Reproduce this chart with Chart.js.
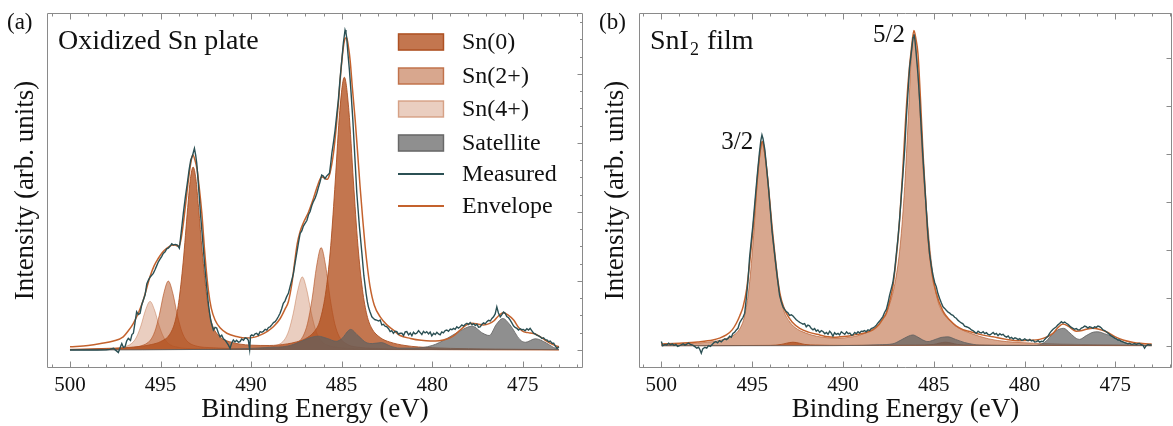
<!DOCTYPE html>
<html>
<head>
<meta charset="utf-8">
<script src="https://cdn.jsdelivr.net/npm/chart.js@4.4.0/dist/chart.umd.min.js"></script>
<style>
  body { margin: 0; background: #fff; }
  #wrap { position: relative; width: 1173px; height: 426px; }
  #wrap canvas { position: absolute; top: 0; }
</style>
</head>
<body>
<div id="wrap">
  <canvas id="chartA" width="590" height="426" style="left:0"></canvas>
  <canvas id="chartB" width="583" height="426" style="left:590px"></canvas>
</div>
<script>
// binding energy ticks shown on both panels
const energyTicks = [500, 495, 490, 485, 480, 475];
const legendLabels = ['Sn(0)', 'Sn(2+)', 'Sn(4+)', 'Satellite', 'Measured', 'Envelope'];
const peakLabels = ['3/2', '5/2'];

// ---- panel (a): oxidized Sn plate, [binding energy, intensity] ----
const aSn0 = [[500,.002],[498,.005],[497,.007],[496,.012],[495.5,.017],[495,.026],[494.5,.048],[494.2,.088],[494,.147],
  [493.75,.273],[493.5,.442],[493.35,.532],[493.2,.568],[493.05,.532],[492.9,.442],[492.7,.307],[492.45,.168],[492.2,.089],
  [491.7,.040],[491.2,.026],[490,.015],[489,.014],[488,.019],[487.5,.025],[487,.035],[486.5,.058],[486.2,.091],[485.85,.19],
  [485.6,.325],[485.35,.525],[485.1,.744],[484.85,.847],[484.6,.744],[484.35,.525],[484.1,.325],[483.85,.188],[483.6,.108],
  [483.35,.069],[482.85,.038],[482.35,.025],[481.5,.014],[480,.007],[478,.004],[475,.002],[473,.001]];
const aSn2 = [[500,.001],[497.5,.004],[496.57,.008],[496.07,.013],[495.57,.030],[495.32,.057],[495.07,.108],[494.82,.176],
  [494.57,.214],[494.32,.176],[494.07,.108],[493.82,.057],[493.57,.030],[493.07,.013],[492.07,.007],[490.5,.004],[489,.005],
  [488.13,.010],[487.63,.017],[487.13,.043],[486.88,.083],[486.63,.159],[486.38,.261],[486.13,.318],[485.88,.261],[485.63,.159],
  [485.38,.082],[485.13,.042],[484.63,.016],[484.13,.009],[483.13,.005],[481,.002],[478,.001],[473,0]];
const aSn4 = [[500,.001],[498.58,.003],[497.58,.005],[497.08,.009],[496.58,.021],[496.33,.040],[496.08,.076],[495.83,.124],
  [495.58,.151],[495.33,.124],[495.08,.076],[494.83,.040],[494.58,.021],[494.08,.009],[493,.004],[491,.003],[489.17,.008],
  [488.67,.013],[488.17,.031],[487.92,.060],[487.67,.114],[487.42,.186],[487.17,.227],[486.92,.186],[486.67,.114],[486.42,.060],
  [486.17,.031],[485.67,.013],[485.17,.008],[484,.003],[481,.001],[473,0]];
const aSatellite = [[500,0],[492,.002],[490,.005],[489,.008],[488,.012],[487.3,.025],[486.8,.037],[486.3,.043],[485.8,.036],
  [485.3,.027],[485,.035],[484.5,.064],[484.1,.045],[483.6,.022],[483.3,.020],[482.8,.023],[482.3,.012],[481.8,.006],[481,.006],
  [480,.014],[479.2,.035],[478.5,.058],[477.8,.074],[477.2,.052],[476.85,.045],[476.45,.080],[476.1,.098],[475.7,.078],
  [475.15,.032],[474.85,.024],[474.3,.035],[473.7,.022],[473.3,.008],[473,.002]];
const aEnvelope = [[500,.010],[499,.014],[498.3,.020],[497.6,.028],[497.06,.041],[496.8,.058],[496.5,.083],[496.2,.118],
  [495.95,.155],[495.75,.195],[495.58,.228],[495.35,.262],[495.12,.285],[494.9,.303],[494.66,.316],[494.4,.325],[494.2,.326],
  [494.05,.323],[493.95,.326],[493.85,.350],[493.74,.393],[493.6,.460],[493.46,.528],[493.33,.580],[493.22,.606],[493.1,.590],
  [492.98,.560],[492.91,.528],[492.72,.425],[492.54,.290],[492.36,.186],[492.2,.130],[491.99,.093],[491.7,.068],[491.34,.052],
  [490.8,.042],[490.24,.037],[489.8,.040],[489.5,.046],[489.1,.058],[488.77,.072],[488.4,.097],[488.1,.130],[487.94,.150],
  [487.75,.205],[487.6,.270],[487.45,.330],[487.29,.368],[487.11,.395],[486.83,.428],[486.56,.470],[486.3,.515],[486.1,.538],
  [485.95,.534],[485.8,.530],[485.65,.548],[485.45,.611],[485.3,.690],[485.18,.766],[485.05,.860],[484.9,.942],[484.8,.968],
  [484.72,.970],[484.62,.940],[484.53,.900],[484.4,.810],[484.25,.714],[484.1,.600],[483.98,.507],[483.84,.410],[483.7,.321],
  [483.56,.250],[483.43,.197],[483.2,.140],[482.87,.103],[482.5,.078],[482.14,.062],[481.77,.045],[481.2,.036],[480.6,.030],
  [480.1,.028],[479.6,.029],[479.19,.034],[478.8,.045],[478.45,.062],[478.1,.078],[477.8,.083],[477.45,.080],[477.17,.078],
  [476.85,.082],[476.6,.090],[476.3,.108],[476.07,.116],[475.8,.108],[475.5,.093],[475.2,.068],[474.96,.057],[474.7,.054],
  [474.4,.051],[474,.040],[473.66,.027],[473.3,.016],[473,.010]];
const aMeasured = [[500,0],[499.5,0],[499,0],[498.5,0],[498,.001],[497.8,.002],[497.6,.005],[497.45,-.002],[497.33,-.008],
  [497.2,.012],[497.14,.020],[497.05,.008],[496.96,.010],[496.87,.028],[496.78,.036],[496.66,.030],[496.58,.048],[496.5,.052],
  [496.41,.085],[496.32,.119],[496.22,.110],[496.13,.114],[496.04,.140],[495.95,.155],[495.85,.172],[495.76,.205],[495.67,.217],
  [495.58,.226],[495.49,.232],[495.4,.238],[495.3,.250],[495.21,.262],[495.12,.274],[495.03,.282],[494.94,.290],[494.85,.300],
  [494.75,.305],[494.66,.314],[494.57,.316],[494.48,.322],[494.38,.330],[494.29,.326],[494.18,.328],[494.07,.326],[493.96,.316],
  [493.9,.345],[493.82,.385],[493.74,.425],[493.63,.475],[493.52,.518],[493.42,.560],[493.33,.590],[493.23,.605],[493.13,.626],
  [493.06,.605],[493,.580],[492.93,.530],[492.86,.476],[492.79,.420],[492.72,.373],[492.63,.310],[492.54,.248],[492.45,.195],
  [492.36,.145],[492.29,.115],[492.23,.093],[492.15,.075],[492.08,.062],[491.99,.070],[491.9,.068],[491.8,.052],[491.71,.041],
  [491.62,.046],[491.53,.035],[491.44,.031],[491.35,.024],[491.25,.015],[491.16,.005],[491.07,.022],[490.98,.031],[490.89,.025],
  [490.8,.030],[490.7,.024],[490.61,.026],[490.52,.034],[490.42,.030],[490.33,.038],[490.24,.036],[490.15,.030],[490.08,.002],
  [490.03,.044],[489.96,.047],[489.87,.044],[489.78,.050],[489.69,.052],[489.6,.046],[489.5,.057],[489.41,.055],[489.32,.058],
  [489.22,.064],[489.13,.062],[489.04,.070],[488.95,.072],[488.86,.078],[488.76,.085],[488.67,.088],[488.58,.095],[488.49,.104],
  [488.4,.114],[488.31,.128],[488.22,.145],[488.13,.152],[488.04,.165],[487.94,.176],[487.85,.196],[487.76,.215],[487.66,.238],
  [487.57,.270],[487.48,.300],[487.38,.334],[487.29,.362],[487.2,.370],[487.11,.385],[487.02,.393],[486.92,.402],[486.83,.420],
  [486.74,.430],[486.65,.448],[486.56,.461],[486.46,.472],[486.37,.487],[486.28,.505],[486.19,.522],[486.1,.543],[486.01,.540],
  [485.92,.532],[485.83,.540],[485.74,.545],[485.67,.549],[485.6,.580],[485.54,.611],[485.45,.645],[485.36,.683],[485.27,.730],
  [485.18,.776],[485.09,.840],[484.99,.900],[484.9,.955],[484.81,.994],[484.76,.985],[484.72,.970],[484.65,.920],[484.57,.870],
  [484.48,.800],[484.38,.714],[484.27,.600],[484.16,.487],[484.02,.385],[483.88,.300],[483.77,.230],[483.65,.176],[483.58,.150],
  [483.52,.134],[483.43,.118],[483.33,.103],[483.24,.098],[483.15,.094],[483.06,.093],[482.96,.090],[482.87,.093],[482.78,.078],
  [482.69,.080],[482.6,.074],[482.5,.072],[482.41,.066],[482.32,.057],[482.23,.060],[482.14,.052],[482.05,.058],[481.95,.057],
  [481.86,.049],[481.77,.052],[481.67,.052],[481.58,.045],[481.49,.056],[481.4,.057],[481.3,.047],[481.21,.053],[481.12,.044],
  [481.03,.055],[480.94,.050],[480.85,.052],[480.75,.060],[480.66,.054],[480.57,.048],[480.48,.058],[480.39,.053],[480.3,.057],
  [480.2,.050],[480.11,.056],[480.02,.044],[479.92,.052],[479.83,.048],[479.74,.055],[479.65,.050],[479.56,.047],[479.47,.056],
  [479.38,.053],[479.28,.060],[479.19,.062],[479.1,.058],[479,.065],[478.91,.063],[478.82,.067],[478.73,.064],[478.64,.072],
  [478.55,.068],[478.45,.072],[478.36,.078],[478.27,.074],[478.17,.080],[478.08,.083],[477.99,.079],[477.9,.085],[477.8,.078],
  [477.71,.082],[477.62,.076],[477.53,.080],[477.44,.071],[477.35,.072],[477.25,.080],[477.16,.084],[477.07,.081],[476.98,.088],
  [476.89,.092],[476.79,.090],[476.7,.098],[476.61,.103],[476.52,.112],[476.43,.134],[476.34,.115],[476.24,.103],[476.15,.110],
  [476.06,.118],[475.97,.114],[475.88,.104],[475.78,.100],[475.69,.093],[475.6,.084],[475.51,.075],[475.42,.070],[475.32,.067],
  [475.23,.062],[475.14,.066],[475.05,.063],[474.96,.064],[474.87,.060],[474.77,.066],[474.68,.062],[474.59,.067],[474.5,.060],
  [474.4,.052],[474.31,.050],[474.22,.046],[474.12,.044],[474.03,.041],[473.94,.036],[473.85,.038],[473.75,.032],[473.66,.031],
  [473.57,.026],[473.48,.028],[473.38,.021],[473.29,.021],[473.2,.012],[473.1,.005],[473,.010]];

// ---- panel (b): SnI2 film ----
const bSn2 = [[500,.004],[499,.006],[498,.008],[497.45,.011],[496.95,.015],[496.45,.022],[495.95,.036],[495.7,.052],[495.45,.087],
  [495.2,.170],[494.95,.325],[494.7,.530],[494.55,.615],[494.45,.643],[494.35,.620],[494.15,.535],[493.85,.330],[493.55,.185],
  [493.25,.110],[492.95,.077],[492.65,.058],[492.05,.040],[491.45,.030],[490.85,.025],[490.2,.024],[489.6,.027],[489.09,.033],
  [488.6,.045],[488.2,.059],[487.8,.086],[487.4,.137],[487.1,.209],[486.85,.316],[486.6,.504],[486.4,.724],[486.25,.900],
  [486.09,.986],[485.95,.930],[485.8,.790],[485.6,.570],[485.4,.430],[485.1,.250],[484.8,.148],[484.5,.105],[484.1,.078],
  [483.6,.055],[483,.040],[482,.022],[481,.013],[479.5,.008],[478,.005],[476,.003],[473,.002]];
const bSn0 = [[500,0],[494,.001],[493.4,.004],[493.1,.008],[492.75,.011],[492.4,.008],[492.1,.004],[491.5,.002],[490,.001],
  [486,.002],[485,.004],[484.7,.008],[484.35,.011],[484,.008],[483.7,.004],[483,.002],[480,.001],[473,0]];
const bSatellite = [[500,0],[492,0],[489,.001],[488,.003],[487.25,.006],[486.8,.018],[486.4,.030],[486.15,.034],[485.9,.028],
  [485.6,.018],[485.32,.013],[485,.018],[484.6,.026],[484.22,.028],[483.8,.020],[483.3,.010],[482.8,.004],[482.47,.002],[481,.001],
  [479.5,.001],[479.17,.003],[478.8,.015],[478.44,.039],[478.1,.052],[477.85,.055],[477.5,.040],[477.15,.023],[476.97,.020],
  [476.6,.032],[476.2,.043],[475.96,.044],[475.6,.038],[475.13,.028],[474.75,.016],[474.4,.008],[474,.003],[473.5,.001],[473,0]];
const bEnvelope = [[500,.005],[499,.008],[498,.012],[497.16,.018],[496.8,.024],[496.42,.034],[496.1,.050],[495.87,.071],[495.68,.095],
  [495.5,.123],[495.3,.180],[495.14,.260],[494.96,.365],[494.8,.470],[494.65,.570],[494.52,.630],[494.45,.646],[494.37,.635],
  [494.22,.570],[494.05,.470],[493.9,.375],[493.75,.290],[493.6,.215],[493.45,.160],[493.3,.128],[493.12,.103],[492.8,.075],
  [492.38,.055],[491.9,.043],[491.28,.034],[490.8,.028],[490.5,.027],[490.18,.028],[489.8,.030],[489.3,.035],[488.8,.040],
  [488.35,.050],[488,.068],[487.8,.085],[487.61,.103],[487.43,.140],[487.25,.187],[487.08,.270],[486.88,.398],[486.72,.540],
  [486.55,.714],[486.4,.840],[486.23,.940],[486.09,.998],[485.98,.970],[485.87,.925],[485.73,.780],[485.59,.609],[485.45,.470],
  [485.32,.345],[485.1,.230],[484.86,.166],[484.5,.110],[484.12,.081],[483.75,.062],[483.39,.051],[483.02,.045],[482.4,.035],
  [481.74,.028],[481,.020],[480.27,.016],[479.7,.017],[479.17,.020],[478.8,.027],[478.44,.039],[478.15,.058],[477.89,.069],
  [477.6,.062],[477.15,.046],[476.9,.047],[476.6,.052],[476.23,.055],[475.9,.052],[475.5,.044],[475,.028],[474.58,.018],
  [474,.010],[473.5,.007],[473,.005]];
const bMeasured = [[500,.013],[499.92,0],[499.8,.004],[499.7,.002],[499.6,.008],[499.5,.003],[499.4,.006],[499.3,.001],[499.2,.004],
  [499.1,-.002],[499,0],[498.9,.003],[498.8,.006],[498.7,.002],[498.6,.005],[498.5,.008],[498.4,.004],[498.27,.002],[498.15,-.003],
  [498.05,-.008],[497.95,-.005],[497.88,-.012],[497.8,-.024],[497.72,-.010],[497.6,-.005],[497.5,-.008],[497.4,0],[497.3,-.002],
  [497.2,.004],[497.1,.010],[497,.013],[496.9,.009],[496.8,.016],[496.7,.012],[496.6,.018],[496.5,.022],[496.42,.019],[496.33,.023],
  [496.24,.030],[496.15,.027],[496.06,.039],[495.97,.042],[495.87,.050],[495.78,.055],[495.69,.072],[495.6,.081],[495.5,.090],
  [495.41,.103],[495.32,.150],[495.23,.205],[495.14,.280],[495.05,.330],[494.96,.380],[494.87,.440],[494.78,.500],[494.7,.550],
  [494.6,.610],[494.52,.650],[494.46,.667],[494.4,.655],[494.3,.620],[494.2,.560],[494.1,.500],[494,.430],[493.9,.360],[493.8,.310],
  [493.7,.260],[493.6,.210],[493.49,.160],[493.4,.140],[493.3,.123],[493.21,.115],[493.12,.108],[493.03,.104],[492.94,.096],
  [492.84,.098],[492.75,.094],[492.66,.088],[492.57,.082],[492.48,.078],[492.38,.074],[492.29,.071],[492.2,.068],[492.11,.070],
  [492.02,.060],[491.93,.065],[491.84,.063],[491.75,.055],[491.65,.050],[491.56,.054],[491.47,.046],[491.38,.050],[491.28,.042],
  [491.19,.048],[491.1,.045],[491,.038],[490.91,.042],[490.82,.036],[490.73,.046],[490.64,.040],[490.55,.030],[490.46,.041],
  [490.37,.036],[490.27,.039],[490.18,.034],[490.09,.044],[490,.040],[489.9,.036],[489.8,.044],[489.71,.038],[489.62,.040],
  [489.53,.033],[489.45,.034],[489.35,.042],[489.26,.038],[489.17,.044],[489.08,.040],[488.99,.046],[488.9,.045],[488.81,.048],
  [488.72,.044],[488.62,.050],[488.53,.048],[488.44,.054],[488.35,.056],[488.25,.060],[488.16,.065],[488.07,.072],[487.98,.078],
  [487.89,.085],[487.8,.092],[487.71,.105],[487.61,.115],[487.52,.135],[487.43,.160],[487.34,.180],[487.25,.200],[487.15,.240],
  [487.06,.290],[486.97,.340],[486.88,.400],[486.79,.470],[486.7,.540],[486.6,.620],[486.51,.720],[486.42,.800],[486.33,.880],
  [486.23,.930],[486.14,.975],[486.09,.985],[486.04,.970],[485.96,.920],[485.87,.860],[485.78,.780],[485.69,.690],[485.6,.600],
  [485.5,.510],[485.41,.430],[485.32,.350],[485.23,.292],[485.14,.255],[485.05,.225],[484.95,.200],[484.86,.187],[484.77,.165],
  [484.68,.150],[484.58,.135],[484.49,.123],[484.4,.118],[484.31,.112],[484.21,.106],[484.12,.103],[484.03,.098],[483.94,.096],
  [483.85,.090],[483.76,.087],[483.66,.080],[483.57,.076],[483.48,.072],[483.39,.069],[483.3,.062],[483.2,.060],[483.11,.058],
  [483.02,.055],[482.93,.050],[482.84,.048],[482.74,.043],[482.65,.039],[482.56,.046],[482.47,.042],[482.38,.040],[482.28,.044],
  [482.19,.038],[482.1,.041],[482.01,.036],[481.91,.034],[481.82,.038],[481.73,.042],[481.64,.036],[481.55,.039],[481.46,.032],
  [481.36,.038],[481.27,.034],[481.18,.036],[481.09,.030],[480.99,.027],[480.9,.031],[480.81,.023],[480.72,.026],[480.62,.021],
  [480.53,.025],[480.45,.023],[480.35,.019],[480.26,.022],[480.17,.017],[480.08,.018],[479.99,.022],[479.89,.018],[479.8,.016],
  [479.71,.020],[479.62,.015],[479.53,.017],[479.44,.012],[479.35,.013],[479.25,.016],[479.16,.011],[479.07,.014],[478.98,.013],
  [478.89,.020],[478.8,.025],[478.71,.030],[478.62,.039],[478.53,.046],[478.43,.052],[478.34,.056],[478.25,.060],[478.16,.066],
  [478.07,.070],[477.97,.076],[477.88,.072],[477.79,.075],[477.7,.071],[477.61,.068],[477.51,.062],[477.42,.058],[477.33,.055],
  [477.24,.052],[477.15,.054],[477.06,.050],[476.97,.050],[476.87,.056],[476.78,.058],[476.69,.062],[476.6,.060],[476.51,.056],
  [476.42,.060],[476.32,.058],[476.23,.055],[476.14,.060],[476.05,.058],[475.96,.062],[475.86,.060],[475.77,.056],[475.68,.050],
  [475.59,.048],[475.5,.044],[475.41,.040],[475.31,.035],[475.22,.031],[475.13,.028],[475.04,.024],[474.95,.022],[474.86,.018],
  [474.77,.018],[474.68,.014],[474.58,.012],[474.49,.010],[474.4,.008],[474.31,.006],[474.22,.008],[474.13,.005],[474.04,.005],
  [473.94,.007],[473.85,.004],[473.76,.006],[473.67,.007],[473.57,.003],[473.48,.002],[473.39,-.008],[473.3,0],[473.2,.004],
  [473.1,.002],[473,.003]];

const serif = '"Liberation Serif", "Times New Roman", serif';
const ink = '#111';

function fillSet(label, data, fill, line, order) {
  return { label: label, data: data, backgroundColor: fill, borderColor: line, borderWidth: 1, fill: 'origin',
    pointRadius: 0, cubicInterpolationMode: 'monotone', order: order };
}
function lineSet(label, data, color, width, smooth, order) {
  return { label: label, data: data, borderColor: color, backgroundColor: color, borderWidth: width, fill: false,
    pointRadius: 0, tension: 0, cubicInterpolationMode: smooth ? 'monotone' : 'default', order: order };
}

const cSn0 = ['rgba(178,79,30,0.78)', 'rgba(170,75,28,0.85)'];
const cSn2 = ['rgba(178,79,30,0.50)', 'rgba(178,79,30,0.60)'];
const cSn4 = ['rgba(178,79,30,0.28)', 'rgba(178,79,30,0.36)'];
const cSat = ['rgba(95,95,95,0.70)', 'rgba(95,95,95,0.80)'];
const cMeas = '#2b5054';
const cEnv = '#c4622d';

// frame with inward ticks on all four sides (right side carries intensity ticks)
const framePlugin = {
  id: 'frame',
  afterDatasetsDraw(chart, args, o) {
    const { ctx, chartArea: a, scales: { x, y } } = chart;
    const L = Math.round(a.left) + 0.5, R = Math.round(a.right) - 0.5;
    const T = Math.round(a.top) + 0.5, B = Math.round(a.bottom) - 0.5;
    ctx.save();
    ctx.strokeStyle = '#8a8a8a';
    ctx.lineWidth = 1;
    ctx.beginPath();
    ctx.rect(L, T, R - L, B - T);
    for (let v = Math.ceil(x.min); v <= x.max; v++) {
      const px = Math.round(x.getPixelForValue(v)) + 0.5;
      const len = v % 5 === 0 ? 6 : 3;
      ctx.moveTo(px, B); ctx.lineTo(px, B - len);
      ctx.moveTo(px, T); ctx.lineTo(px, T + len);
    }
    for (let i = 0; i * o.yMinor <= y.max; i++) {
      const py = Math.round(y.getPixelForValue(i * o.yMinor)) + 0.5;
      const len = i % o.perMajor === 0 ? 5 : 2.5;
      ctx.moveTo(R, py); ctx.lineTo(R - len, py);
    }
    ctx.stroke();
    ctx.restore();
  }
};

function panelOptions(p) {
  return {
    responsive: false,
    animation: false,
    events: [],
    layout: { padding: { left: 0, right: p.padRight, top: 13, bottom: 0 } },
    plugins: {
      legend: { display: false },
      tooltip: { enabled: false },
      frame: { yMinor: p.yMinor, perMajor: p.perMajor }
    },
    scales: {
      x: {
        type: 'linear', reverse: true, min: p.xMin, max: p.xMax,
        afterBuildTicks: s => { s.ticks = energyTicks.map(v => ({ value: v })); },
        afterFit: s => { s.height = 58; },
        grid: { display: false, drawTicks: false },
        border: { display: false },
        ticks: { color: ink, font: { family: serif, size: 21 }, padding: 5, maxRotation: 0 },
        title: { display: true, text: 'Binding Energy (eV)', color: ink,
          font: { family: serif, size: 27 }, padding: { top: 0, bottom: 0 } }
      },
      y: {
        min: p.yMin, max: p.yMax,
        afterFit: s => { s.width = p.left; },
        grid: { display: false, drawTicks: false },
        border: { display: false },
        ticks: { display: false },
        title: { display: true, text: 'Intensity (arb. units)', color: ink,
          font: { family: serif, size: 27 }, padding: { top: 10, bottom: 0 } }
      }
    }
  };
}

// ---------- panel (a) ----------
const dsA = [
  fillSet(legendLabels[0], aSn0, cSn0[0], cSn0[1], 5),
  fillSet(legendLabels[1], aSn2, cSn2[0], cSn2[1], 4),
  fillSet(legendLabels[2], aSn4, cSn4[0], cSn4[1], 3),
  fillSet(legendLabels[3], aSatellite, cSat[0], cSat[1], 2),
  lineSet(legendLabels[4], aMeasured, cMeas, 1.4, false, 0),
  lineSet(legendLabels[5], aEnvelope, cEnv, 1.5, true, 1)
];

const textsA = {
  id: 'textsA',
  afterDraw(chart) {
    const ctx = chart.ctx;
    ctx.save();
    ctx.fillStyle = ink;
    ctx.textBaseline = 'alphabetic';
    ctx.font = '23px ' + serif;
    ctx.fillText('(a)', 7, 29);
    ctx.font = '28px ' + serif;
    ctx.fillText('Oxidized Sn plate', 58, 49);
    // legend
    const rows = [42, 76, 109, 143, 174, 206];
    ctx.font = '24px ' + serif;
    ctx.textBaseline = 'middle';
    chart.data.datasets.forEach((ds, i) => {
      const yc = rows[i];
      if (ds.fill) {
        ctx.fillStyle = ds.backgroundColor;
        ctx.fillRect(398, yc - 8.5, 46, 17);
        ctx.strokeStyle = ds.borderColor;
        ctx.lineWidth = 1.5;
        ctx.strokeRect(398.5, yc - 8, 45, 16);
      } else {
        ctx.strokeStyle = ds.borderColor;
        ctx.lineWidth = 2;
        ctx.beginPath();
        ctx.moveTo(398, yc);
        ctx.lineTo(444, yc);
        ctx.stroke();
      }
      ctx.fillStyle = ink;
      ctx.fillText(ds.label, 462, yc + 1);
    });
    ctx.restore();
  }
};

new Chart(document.getElementById('chartA'), {
  type: 'line',
  data: { datasets: dsA },
  options: panelOptions({ left: 47, padRight: 7, xMin: 471.67, xMax: 501.27,
    yMin: -0.0559, yMax: 1.0466, yMinor: 0.0536, perMajor: 4 }),
  plugins: [framePlugin, textsA]
});

// ---------- panel (b) ----------
const dsB = [
  fillSet('Sn(2+)', bSn2, cSn2[0], cSn2[1], 4),
  fillSet('Sn(0)', bSn0, cSn0[0], cSn0[1], 3),
  fillSet('Satellite', bSatellite, cSat[0], cSat[1], 2),
  lineSet('Measured', bMeasured, cMeas, 1.4, false, 0),
  lineSet('Envelope', bEnvelope, cEnv, 1.5, true, 1)
];
const peakAt = [[494.45, .646], [486.09, .985]];

const textsB = {
  id: 'textsB',
  afterDraw(chart) {
    const { ctx, scales: { x, y } } = chart;
    ctx.save();
    ctx.fillStyle = ink;
    ctx.textBaseline = 'alphabetic';
    ctx.font = '23px ' + serif;
    ctx.fillText('(b)', 9, 29);
    ctx.font = '28px ' + serif;
    ctx.fillText('SnI', 60, 49);
    let w = ctx.measureText('SnI').width;
    ctx.font = '18px ' + serif;
    ctx.fillText('2', 60 + w + 1, 55);
    const w2 = ctx.measureText('2').width;
    ctx.font = '28px ' + serif;
    ctx.fillText(' film', 60 + w + w2 + 2, 49);
    ctx.font = '25px ' + serif;
    ctx.textAlign = 'right';
    ctx.textBaseline = 'middle';
    peakLabels.forEach((t, i) => {
      ctx.fillText(t, x.getPixelForValue(peakAt[i][0]) - 9, y.getPixelForValue(peakAt[i][1]) + 1);
    });
    ctx.restore();
  }
};

new Chart(document.getElementById('chartB'), {
  type: 'line',
  data: { datasets: dsB },
  options: panelOptions({ left: 49, padRight: 1, xMin: 471.88, xMax: 501.23,
    yMin: -0.0706, yMax: 1.053, yMinor: 0.152, perMajor: 1 }),
  plugins: [framePlugin, textsB]
});
</script>
</body>
</html>
